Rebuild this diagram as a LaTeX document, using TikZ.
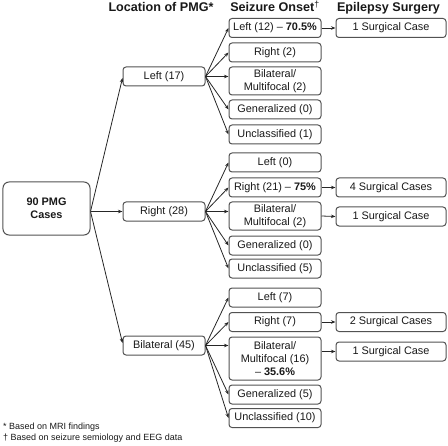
\documentclass[tikz,border=0pt]{standalone}
\usepackage{fontspec}
\setmainfont{Liberation Sans}
\usetikzlibrary{arrows.meta}
\begin{document}
\begin{tikzpicture}[x=1bp,y=-1bp,
 box/.style={draw=black!68, line width=1bp, rounded corners=3bp, inner sep=0pt, align=center, font=\fontsize{10.9bp}{13bp}\selectfont, text=black!90},
 onset/.style={box, minimum width=92bp, minimum height=19bp},
 surg/.style={box, minimum width=110bp, minimum height=19bp},
 loc/.style={box, minimum width=82bp, minimum height=19bp},
 arr/.style={-{Stealth[length=4.5bp,width=3.5bp]}, line width=0.8bp, black!85},
 hdr/.style={font=\fontsize{12.6bp}{15bp}\selectfont\bfseries, anchor=base, inner sep=0pt, text=black!90},
 foot/.style={font=\fontsize{9bp}{10bp}\selectfont, anchor=base west, inner sep=0pt, text=black!90}]
\useasboundingbox (0,0) rectangle (448,446);

% headers
\node[hdr] (h1) at (161,11.5) {Location of PMG*};
\node[hdr] (h2) at (275,11.5) {Seizure Onset\textsuperscript{\normalfont†}};
\node[hdr] (h3) at (388.5,11.5) {Epilepsy Surgery};

% root
\node[box, rounded corners=6bp, minimum width=87bp, minimum height=53bp, font=\fontsize{10.9bp}{13bp}\selectfont\bfseries] (pmg) at (46.5,208.5) {90 PMG\\Cases};

% locations
\node[loc] (lL) at (164,76.5) {Left (17)};
\node[loc] (lR) at (164,211.5) {Right (28)};
\node[loc] (lB) at (164,345.5) {Bilateral (45)};

% onset - left
\node[onset] (L1) at (275,28) {Left (12) -- \textbf{70.5\%}};
\node[onset] (L2) at (275,52.5) {Right (2)};
\node[onset, minimum height=28bp] (L3) at (275,81) {Bilateral/\\Multifocal (2)};
\node[onset] (L4) at (275,109.5) {Generalized (0)};
\node[onset] (L5) at (275,134.5) {Unclassified (1)};
% onset - right
\node[onset] (R1) at (275,162.5) {Left (0)};
\node[onset] (R2) at (275,187.5) {Right (21) -- \textbf{75\%}};
\node[onset, minimum height=28bp] (R3) at (275,216) {Bilateral/\\Multifocal (2)};
\node[onset] (R4) at (275,245.5) {Generalized (0)};
\node[onset] (R5) at (275,268.5) {Unclassified (5)};
% onset - bilateral
\node[onset] (B1) at (275,297.5) {Left (7)};
\node[onset] (B2) at (275,322) {Right (7)};
\node[onset, minimum height=43bp] (B3) at (275,358.5) {Bilateral/\\Multifocal (16)\\-- \textbf{35.6\%}};
\node[onset] (B4) at (275,394.5) {Generalized (5)};
\node[onset] (B5) at (275,418) {Unclassified (10)};

% surgery
\node[surg] (S1) at (391,28) {1 Surgical Case};
\node[surg] (S2) at (391,187.5) {4 Surgical Cases};
\node[surg] (S3) at (391,216.5) {1 Surgical Case};
\node[surg] (S4) at (391,322) {2 Surgical Cases};
\node[surg] (S5) at (391,351.5) {1 Surgical Case};

% footnotes
\node[foot] (f1) at (3,429.5) {* Based on MRI findings};
\node[foot] (f2) at (3,440.5) {† Based on seizure semiology and EEG data};

% connectors root
\coordinate (po) at ([yshift=-3bp]pmg.east);
\draw[arr] (po) -- ([yshift=-1.5bp]lL.west);
\draw[arr] (po) -- (po -| lR.west);
\draw[arr] (po) -- ([yshift=2.5bp]lB.west);

% fans
\foreach \s/\t in {lL/L1,lL/L2,lL/L4,lL/L5,lR/R1,lR/R2,lR/R4,lR/R5,lB/B1,lB/B2,lB/B4,lB/B5}
  \draw[arr] (\s.east) -- (\t.west);
\draw[arr] (lL.east) -- (lL.east -| L3.west);
\draw[arr] (lR.east) -- (lR.east -| R3.west);
\draw[arr] (lB.east) -- (lB.east -| B3.west);

% surgery arrows
\draw[arr] (L1.east) -- (S1.west);
\draw[arr] (R2.east) -- (S2.west);
\draw[arr] (R3.east) -- (S3.west);
\draw[arr] (B2.east) -- (S4.west);
\draw[arr] (S5.west -| B3.east) -- (S5.west);
\end{tikzpicture}
\end{document}
